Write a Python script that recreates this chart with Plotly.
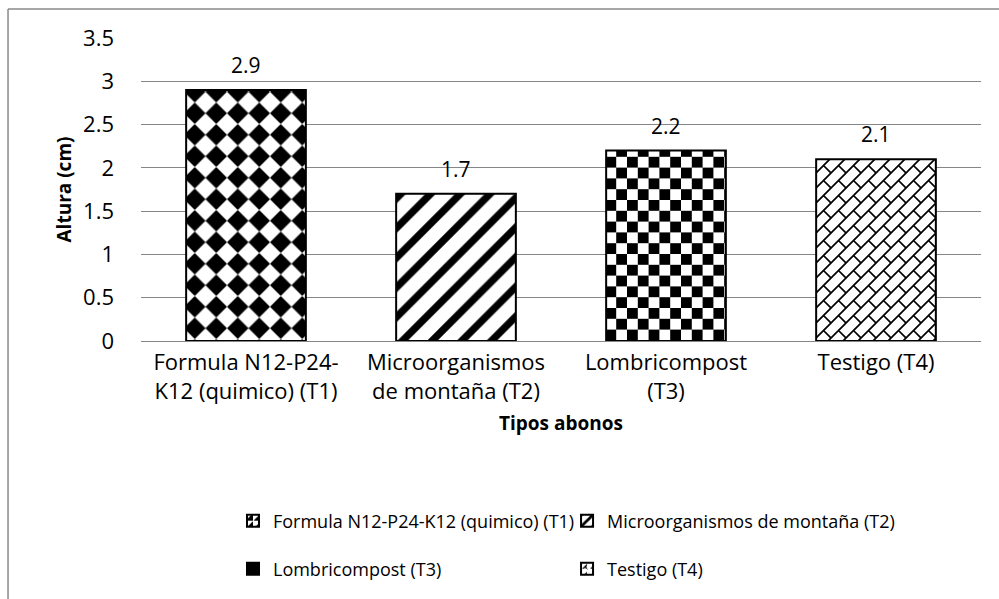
import plotly.graph_objects as go

# Data: plant height by fertiliser type
categories = [
    "Formula N12-P24-<br>K12 (quimico) (T1)",
    "Microorganismos<br>de montaña (T2)",
    "Lombricompost<br>(T3)",
    "Testigo (T4)",
]
series_names = [
    "Formula N12-P24-K12 (quimico) (T1)",
    "Microorganismos de montaña (T2)",
    "Lombricompost (T3)",
    "Testigo (T4)",
]
values = [2.9, 1.7, 2.2, 2.1]
value_labels = ["2.9", "1.7", "2.2", "2.1"]
y_ticks = [0, 0.5, 1, 1.5, 2, 2.5, 3, 3.5]


def brick_tile(s, w):
    """Diagonal brick tile: a '/' band, its corner pieces and a '\\' connector."""
    a = w / 2 ** 0.5
    band = f"M0,{s-a}L{s-a},0L{s},0L{s},{a}L{a},{s}L0,{s}Z"
    c1 = f"M0,0L{a},0L0,{a}Z"
    c2 = f"M{s},{s}L{s-a},{s}L{s},{s-a}Z"
    conn = (f"M{s/2+a/2},{s/2-a/2}L{s},{s-a}L{s},{s}L{s-a},{s}"
            f"L{s/2-a/2},{s/2+a/2}Z")
    return band + c1 + c2 + conn


# Fill tiles: diamond checker, square checker and diagonal brick, with built-in fallbacks
custom_paths = [
    "M10.75,0L21.5,10.75L10.75,21.5L0,10.75Z",
    None,
    "M0,0H10.8V10.8H0Z M10.8,10.8H21.6V21.6H10.8Z",
    brick_tile(15, 1.7),
]
patterns = [(".", 21.5, 0.5), ("/", 21, 0.35), ("+", 21.6, 0.5), ("x", 15, 0.18)]

# One single-entry legend per series, laid out as a 2x2 grid
legend_ids = ["legend", "legend2", "legend3", "legend4"]
legend_pos = {"legend": (0.1095, -0.594), "legend2": (0.5072, -0.594),
              "legend3": (0.1095, -0.7525), "legend4": (0.5072, -0.7525)}

try:
    go.bar.marker.Pattern(path="M0,0H1V1Z")
    HAS_PATH = True
except Exception:
    HAS_PATH = False

FONT = "Open Sans"
GRID = "#868686"

fig = go.Figure()
for cat, name, val, (shape, size, sol), cpath, lg in zip(
        categories, series_names, values, patterns, custom_paths, legend_ids):
    pat = dict(shape=shape, size=size, solidity=sol,
               fgcolor="black", bgcolor="white", fillmode="replace")
    if HAS_PATH and cpath:
        pat.pop("shape")
        pat["path"] = cpath
    fig.add_trace(go.Bar(
        x=[cat], y=[val], name=name, legend=lg, showlegend=True,
        marker=dict(color="white", line=dict(color="black", width=2), pattern=pat),
    ))

for cat, val, lab in zip(categories, values, value_labels):
    fig.add_annotation(x=cat, y=val, text=lab, showarrow=False, yanchor="bottom",
                       yshift=9, font=dict(family=FONT, size=21, color="black"))

# Outer frame lines
fig.add_shape(type="line", xref="paper", yref="paper", x0=-0.1583, x1=1.03, y0=1.0957, y1=1.0957,
              line=dict(color="#8a8a8a", width=1.5))
fig.add_shape(type="line", xref="paper", yref="paper", x0=-0.1583, x1=-0.1583, y0=1.0957, y1=-0.86,
              line=dict(color="#8a8a8a", width=1.5))

legends = {
    lid: dict(orientation="h", x=px, xanchor="left", y=py, yanchor="middle",
              bgcolor="rgba(0,0,0,0)", font=dict(family=FONT, size=18))
    for lid, (px, py) in legend_pos.items()
}

fig.update_layout(
    width=999, height=599,
    margin=dict(l=141, r=18, t=38, b=258),
    paper_bgcolor="white", plot_bgcolor="white",
    showlegend=True,
    barmode="overlay", bargap=0.43,
    font=dict(family=FONT, size=21, color="black"),
    xaxis=dict(
        showgrid=False, showline=False, ticks="", ticklabelstandoff=6,
        tickfont=dict(family=FONT, size=22),
        title=dict(text="<b>Tipos abonos</b>", font=dict(family=FONT, size=19), standoff=13),
    ),
    yaxis=dict(
        range=[0, 3.5], tickvals=y_ticks, showgrid=True, gridcolor=GRID, gridwidth=1,
        zeroline=True, zerolinecolor=GRID, zerolinewidth=1, ticks="",
        ticklabelstandoff=26, tickfont=dict(family=FONT, size=22),
        title=dict(text="<b>Altura (cm)</b>", font=dict(family=FONT, size=19), standoff=6),
    ),
    **legends,
)

fig.write_html("out.html")
